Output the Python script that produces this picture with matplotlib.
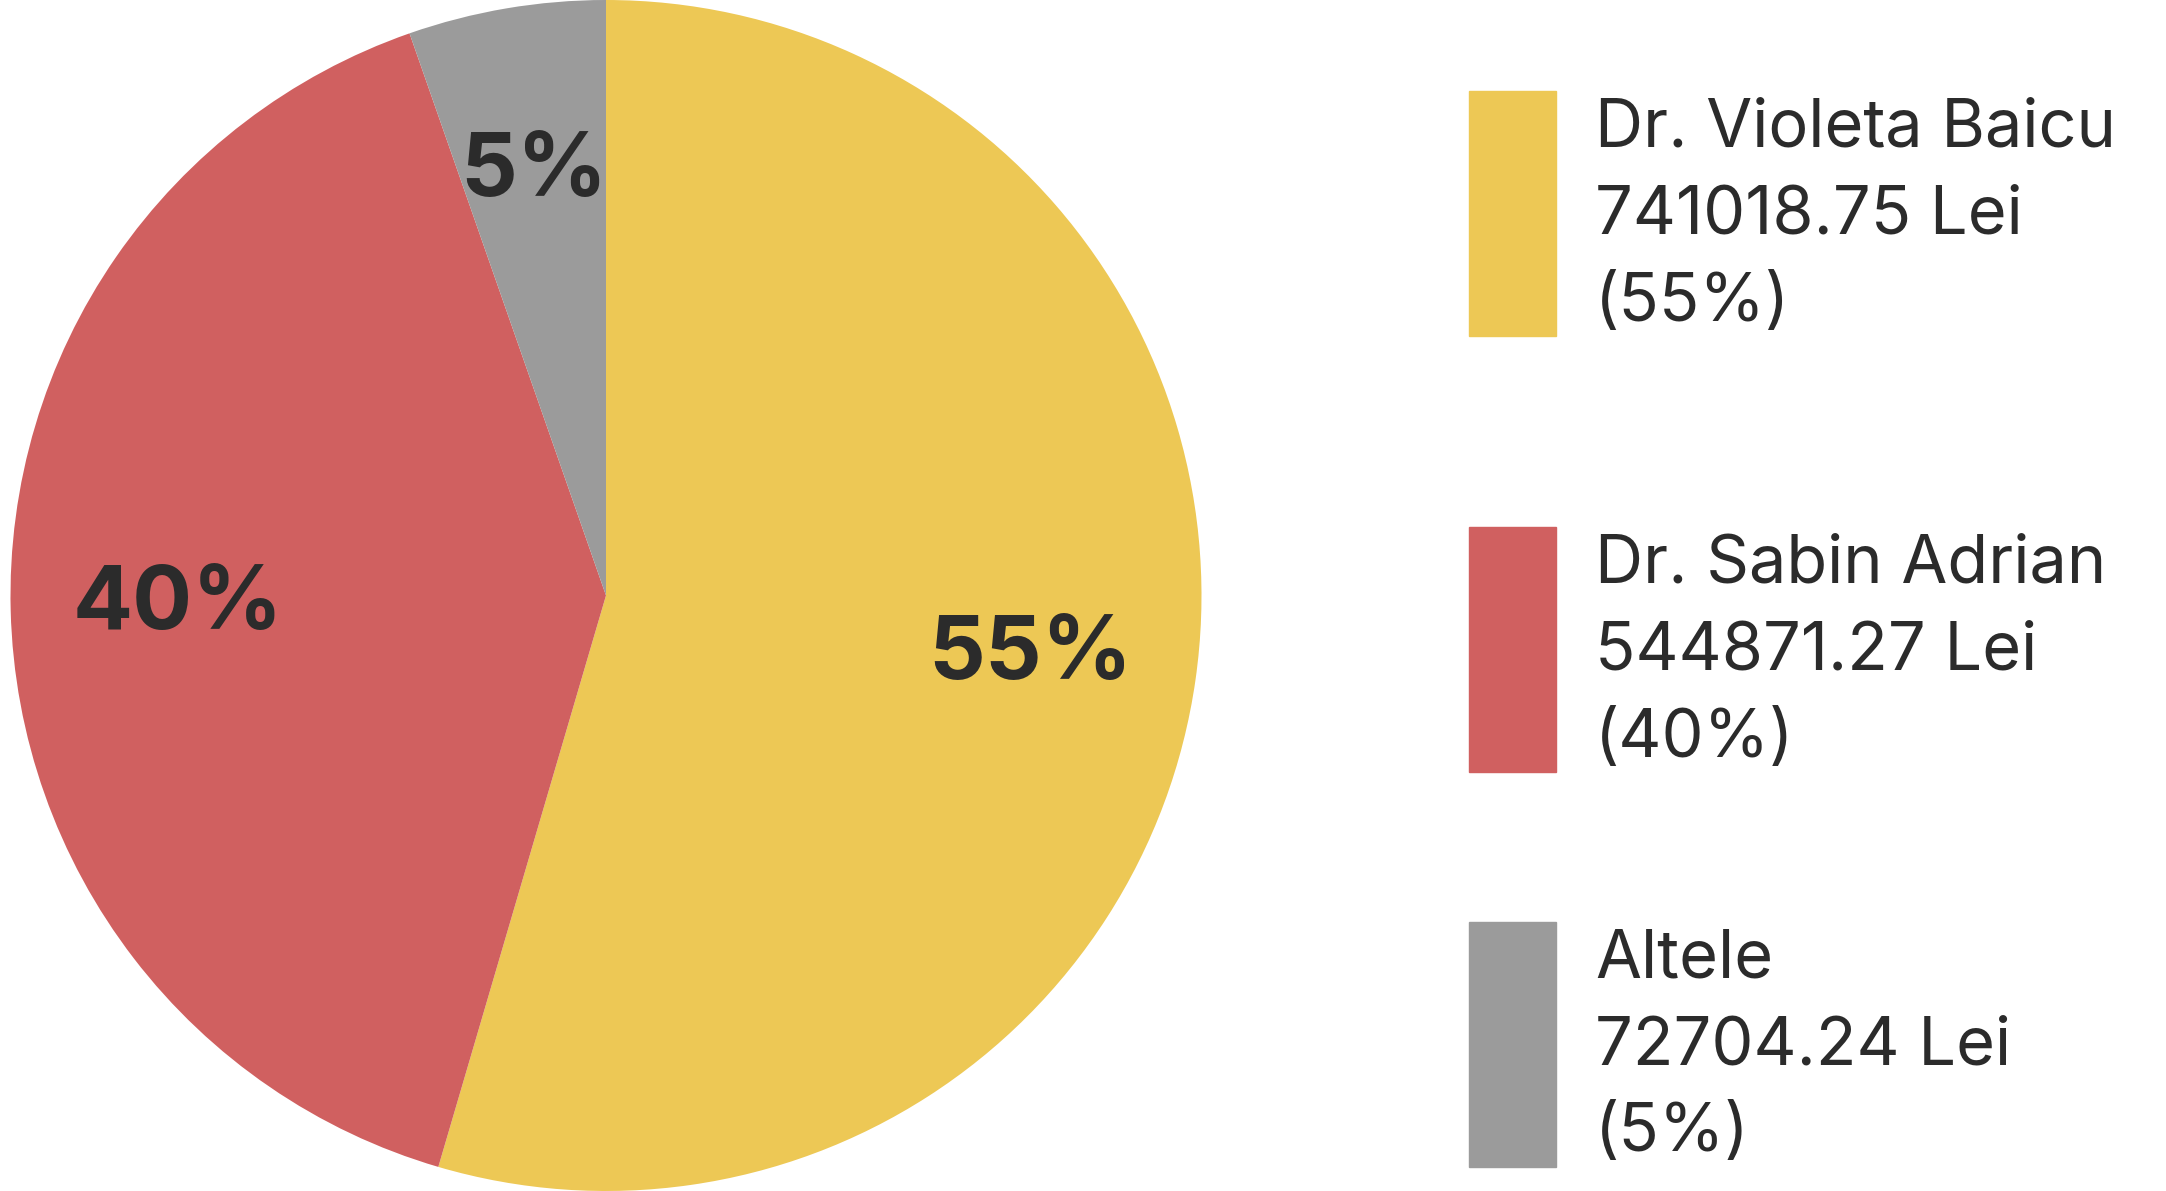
import matplotlib
matplotlib.use("Agg")
import matplotlib.pyplot as plt
from matplotlib.patches import Rectangle

names = ["Dr. Violeta Baicu", "Dr. Sabin Adrian", "Altele"]
values = [741018.75, 544871.27, 72704.24]
pcts = ["55%", "40%", "5%"]
colors = ["#EDC855", "#D06060", "#9B9B9B"]
txt = "#2b2b2b"

W, H = 2166, 1191
fig = plt.figure(figsize=(W/100, H/100), dpi=100)
ax = fig.add_axes([0, 0, 1212/W, 1])
ax.set_aspect("equal")
wedges, _ = ax.pie(values, colors=colors, startangle=90, counterclock=False,
                   radius=1.0)
import numpy as np
tot = sum(values)
ang = 90
for v, p in zip(values, pcts):
    span = v/tot*360
    mid = np.deg2rad(ang - span/2)
    ang -= span
    ax.text(0.72*np.cos(mid), 0.72*np.sin(mid), p, ha="center", va="center",
            fontsize=64, fontweight="bold", color=txt, family=["Inter", "DejaVu Sans"])
ax.set_xlim(-1.0, 1.0); ax.set_ylim(-1.0, 1.0)
ax.axis("off")

tops = [91, 527, 922]
for i, (n, v, p) in enumerate(zip(names, values, pcts)):
    t = tops[i]
    fig.patches.append(Rectangle((1469/W, 1-(t+245)/H), 87/W, 245/H,
                                 transform=fig.transFigure, color=colors[i]))
    lines = [n, f"{v:.2f} Lei", f"({p})"]
    for j, s in enumerate(lines):
        y = t + 38 + j*87
        fig.text(1595/W, 1-y/H, s, ha="left", va="center", fontsize=48,
                 color=txt, family=["Inter", "DejaVu Sans"])
fig.savefig("out.png", dpi=100)
